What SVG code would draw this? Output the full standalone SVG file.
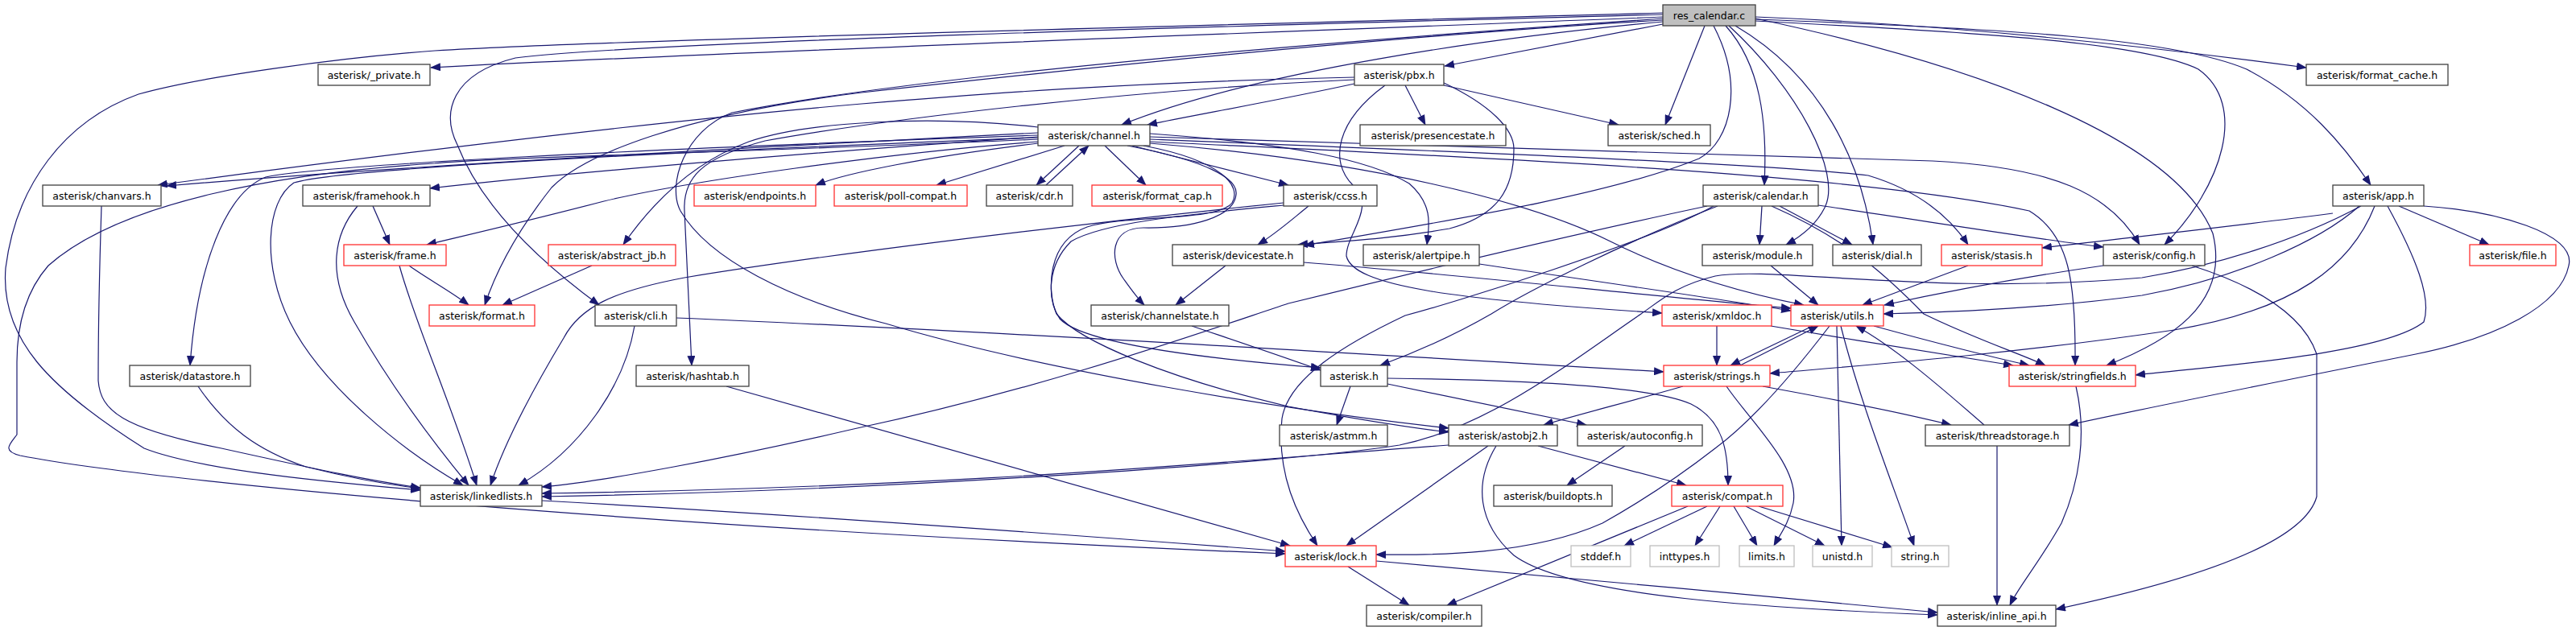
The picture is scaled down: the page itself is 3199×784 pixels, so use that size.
<svg xmlns="http://www.w3.org/2000/svg" width="3199" height="784" viewBox="0 0 3199 784">
<style>
.e{fill:none;stroke:#191970;stroke-width:1.2}
.n rect{fill:#fff;stroke:#404040;stroke-width:1.3}
.r rect{fill:#fff;stroke:#ff3030;stroke-width:1.3}
.g rect{fill:#fff;stroke:#bfbfbf;stroke-width:1.3}
.root rect{fill:#bfbfbf;stroke:#404040;stroke-width:1.3}
text{font-family:"DejaVu Sans",sans-serif;font-size:12.5px;fill:#000;text-anchor:middle}
</style>
<defs>
<marker id="a" markerWidth="13" markerHeight="10" refX="12" refY="5" orient="auto" markerUnits="userSpaceOnUse"><path d="M0,0 L13,5 L0,10 z" fill="#191970"/></marker>
</defs>
<rect width="3199" height="784" fill="#fff"/>
<g id="connectors">
<path class="e" marker-end="url(#a)" d="M2065,21 C1700,36 900,64 535,84"/>
<path class="e" marker-end="url(#a)" d="M2065,30 C1960,50 1870,68 1794,82"/>
<path class="e" marker-end="url(#a)" d="M2180,21 C2480,33 2760,70 2864,84"/>
<path class="e" marker-end="url(#a)" d="M2065,27 C1850,47 1560,88 1393,155"/>
<path class="e" marker-end="url(#a)" d="M2117,32 L2068,155"/>
<path class="e" marker-end="url(#a)" d="M2143,32 C2186,80 2195,150 2191,230"/>
<path class="e" marker-end="url(#a)" d="M2147,32 C2232,110 2288,215 2266,258 C2256,278 2240,292 2218,304"/>
<path class="e" marker-end="url(#a)" d="M2155,32 C2262,95 2312,200 2326,304"/>
<path class="e" marker-end="url(#a)" d="M2128,32 C2166,105 2150,175 2110,197 C2000,242 1800,274 1620,305"/>
<path class="e" marker-end="url(#a)" d="M2180,24 C2500,36 2700,48 2790,86 C2866,126 2910,180 2944,230"/>
<path class="e" marker-end="url(#a)" d="M2180,26 C2450,40 2660,52 2730,86 C2792,130 2760,232 2688,304"/>
<path class="e" marker-end="url(#a)" d="M2180,23 C2450,80 2700,170 2748,290 C2770,380 2690,425 2616,454"/>
<path class="e" marker-end="url(#a)" d="M2065,16 C1500,32 800,48 540,63 C420,72 250,95 172,117 C80,150 20,230 7,333 C0,420 60,482 179,557 C250,585 420,600 522,609"/>
<path class="e" marker-end="url(#a)" d="M2065,18 C1500,33 800,52 640,72 C560,92 548,140 568,180 C600,262 680,332 744,379"/>
<path class="e" marker-end="url(#a)" d="M2065,25 C1700,46 1250,95 1070,115 C850,142 725,192 685,233 C640,290 615,340 602,379"/>
<path class="e" marker-end="url(#a)" d="M2065,23 C1500,62 1100,102 909,140 C850,162 828,230 845,262 C880,322 980,372 1100,402 C1300,462 1600,510 1799,532"/>
<path class="e" marker-end="url(#a)" d="M1682,104 C1600,122 1500,140 1425,155"/>
<path class="e" marker-end="url(#a)" d="M1745,106 L1770,155"/>
<path class="e" marker-end="url(#a)" d="M1793,106 L2010,155"/>
<path class="e" marker-end="url(#a)" d="M1682,96 C1400,102 1200,118 1070,129 C800,152 450,196 196,230"/>
<path class="e" marker-end="url(#a)" d="M1682,99 C1400,112 1100,148 950,175 C870,196 848,222 850,262 L859,454"/>
<path class="e" marker-end="url(#a)" d="M1793,103 C1850,130 1880,160 1880,185 C1880,235 1860,268 1800,284 C1720,298 1660,300 1612,304"/>
<path class="e" marker-end="url(#a)" d="M1720,106 C1660,150 1650,200 1680,230 C1710,258 1672,290 1672,318 C1680,355 1800,372 2064,389"/>
<path class="e" marker-end="url(#a)" d="M1289,165 C900,185 500,206 207,231"/>
<path class="e" marker-end="url(#a)" d="M1289,170 C1000,190 700,215 534,234"/>
<path class="e" marker-end="url(#a)" d="M1289,178 C1150,195 1050,215 1013,230"/>
<path class="e" marker-end="url(#a)" d="M1322,181 L1163,230"/>
<path class="e" marker-end="url(#a)" d="M1340,181 L1287,230"/>
<path class="e" marker-end="url(#a)" d="M1299,230 L1352,181"/>
<path class="e" marker-end="url(#a)" d="M1372,181 L1423,230"/>
<path class="e" marker-end="url(#a)" d="M1406,181 L1600,230"/>
<path class="e" marker-end="url(#a)" d="M1289,176 C1100,190 850,226 750,250 C650,276 580,292 530,304"/>
<path class="e" marker-end="url(#a)" d="M1289,158 C1150,142 1000,152 930,176 C860,202 810,252 774,304"/>
<path class="e" marker-end="url(#a)" d="M1289,168 C800,185 400,205 330,220 C280,240 245,330 236,454"/>
<path class="e" marker-end="url(#a)" d="M1289,171 C800,190 420,210 365,227 C330,250 325,330 360,400 C400,480 500,560 575,603"/>
<path class="e" marker-end="url(#a)" d="M1289,173 C900,190 600,196 540,203 C350,215 150,250 60,330 C25,370 21,420 21,450 L21,540 C12,552 2,560 25,566 C200,600 800,655 1596,688"/>
<path class="e" marker-end="url(#a)" d="M1428,166 C1600,178 1700,198 1750,228 C1780,254 1775,280 1772,304"/>
<path class="e" marker-end="url(#a)" d="M1400,181 C1500,200 1538,222 1535,242 C1532,270 1480,284 1420,283 C1378,283 1378,322 1395,346 C1405,360 1412,370 1421,379"/>
<path class="e" marker-end="url(#a)" d="M1428,170 C1800,182 2200,195 2400,200 C2550,208 2620,240 2657,304"/>
<path class="e" marker-end="url(#a)" d="M1428,173 C1800,188 2200,204 2320,218 C2380,236 2420,268 2444,304"/>
<path class="e" marker-end="url(#a)" d="M1428,176 C1800,194 2300,214 2520,262 C2570,292 2578,350 2577,454"/>
<path class="e" marker-end="url(#a)" d="M1428,178 C1700,200 1900,250 2000,300 C2080,340 2170,365 2240,379"/>
<path class="e" marker-end="url(#a)" d="M1420,181 C1520,200 1542,232 1530,252 C1512,276 1400,266 1350,282 C1300,300 1300,362 1312,390 C1340,424 1450,470 1600,505 C1680,520 1740,530 1799,537"/>
<path class="e" marker-end="url(#a)" d="M1625,256 C1605,272 1585,290 1562,304"/>
<path class="e" marker-end="url(#a)" d="M1594,252 C1300,282 1000,320 850,345 C760,362 720,382 700,420 C670,470 630,540 609,603"/>
<path class="e" marker-end="url(#a)" d="M1594,255 C1480,266 1370,276 1330,300 C1300,330 1300,372 1316,396 C1340,422 1450,442 1640,457"/>
<path class="e" marker-end="url(#a)" d="M1522,330 L1460,379"/>
<path class="e" marker-end="url(#a)" d="M1619,326 C1800,340 2050,368 2224,383"/>
<path class="e" marker-end="url(#a)" d="M1837,328 C1950,345 2100,366 2224,386"/>
<path class="e" marker-end="url(#a)" d="M1480,405 C1530,422 1590,442 1640,460"/>
<path class="e" marker-end="url(#a)" d="M463,256 L484,304"/>
<path class="e" marker-end="url(#a)" d="M444,256 C415,290 405,340 440,400 C480,470 530,540 582,603"/>
<path class="e" marker-end="url(#a)" d="M496,330 C515,400 560,500 592,603"/>
<path class="e" marker-end="url(#a)" d="M508,330 C530,346 560,362 582,379"/>
<path class="e" marker-end="url(#a)" d="M735,330 L624,379"/>
<path class="e" marker-end="url(#a)" d="M126,256 C123,350 122,420 122,473 C125,510 150,532 275,557 C380,580 450,596 522,606"/>
<path class="e" marker-end="url(#a)" d="M246,480 C280,530 320,560 380,580 C440,595 480,602 522,607"/>
<path class="e" marker-end="url(#a)" d="M788,405 C775,480 720,560 644,603"/>
<path class="e" marker-end="url(#a)" d="M840,395 C1200,410 1700,440 2066,462"/>
<path class="e" marker-end="url(#a)" d="M902,480 L1602,678"/>
<path class="e" marker-end="url(#a)" d="M673,622 C1000,640 1400,670 1596,685"/>
<path class="e" marker-end="url(#a)" d="M1677,480 L1660,528"/>
<path class="e" marker-end="url(#a)" d="M1723,477 L1970,528"/>
<path class="e" marker-end="url(#a)" d="M1723,470 C1900,472 2050,480 2100,502 C2140,522 2146,560 2146,603"/>
<path class="e" marker-end="url(#a)" d="M2018,554 L1946,603"/>
<path class="e" marker-end="url(#a)" d="M1799,553 C1500,575 1200,605 673,613"/>
<path class="e" marker-end="url(#a)" d="M1848,554 L1672,678"/>
<path class="e" marker-end="url(#a)" d="M1910,554 L2094,603"/>
<path class="e" marker-end="url(#a)" d="M1858,554 C1830,600 1835,650 1880,690 C1950,742 2200,756 2406,764"/>
<path class="e" marker-end="url(#a)" d="M2120,629 L2017,678"/>
<path class="e" marker-end="url(#a)" d="M2136,629 L2105,678"/>
<path class="e" marker-end="url(#a)" d="M2153,629 L2182,678"/>
<path class="e" marker-end="url(#a)" d="M2168,629 L2266,678"/>
<path class="e" marker-end="url(#a)" d="M2184,629 L2350,680"/>
<path class="e" marker-end="url(#a)" d="M2096,629 L1797,752"/>
<path class="e" marker-end="url(#a)" d="M1674,704 L1750,752"/>
<path class="e" marker-end="url(#a)" d="M1709,697 C1900,715 2200,740 2406,761"/>
<path class="e" marker-end="url(#a)" d="M2090,480 C2020,500 1960,515 1917,528"/>
<path class="e" marker-end="url(#a)" d="M2189,480 C2300,500 2390,520 2423,528"/>
<path class="e" marker-end="url(#a)" d="M2144,480 C2175,525 2235,580 2227,625 C2222,650 2210,665 2203,678"/>
<path class="e" marker-end="url(#a)" d="M2161,454 L2258,405"/>
<path class="e" marker-end="url(#a)" d="M2251,405 L2149,454"/>
<path class="e" marker-end="url(#a)" d="M2132,405 L2132,454"/>
<path class="e" marker-end="url(#a)" d="M2199,405 C2300,422 2440,445 2500,454"/>
<path class="e" marker-end="url(#a)" d="M2327,405 C2400,425 2480,445 2520,454"/>
<path class="e" marker-end="url(#a)" d="M2281,405 L2287,678"/>
<path class="e" marker-end="url(#a)" d="M2286,405 C2310,500 2350,600 2377,678"/>
<path class="e" marker-end="url(#a)" d="M2272,405 C2230,460 2180,520 2130,557 C2080,596 2031,627 1990,650 C1900,690 1780,690 1709,689"/>
<path class="e" marker-end="url(#a)" d="M2464,528 C2400,472 2350,430 2305,405"/>
<path class="e" marker-end="url(#a)" d="M2480,554 L2480,752"/>
<path class="e" marker-end="url(#a)" d="M2578,480 C2592,540 2582,600 2560,650 C2532,700 2506,730 2496,752"/>
<path class="e" marker-end="url(#a)" d="M2199,330 L2258,379"/>
<path class="e" marker-end="url(#a)" d="M2444,330 L2313,379"/>
<path class="e" marker-end="url(#a)" d="M2612,330 C2500,346 2400,366 2340,379"/>
<path class="e" marker-end="url(#a)" d="M2722,330 C2800,355 2860,390 2877,440 L2877,617 C2860,680 2700,726 2553,757"/>
<path class="e" marker-end="url(#a)" d="M2188,256 L2185,304"/>
<path class="e" marker-end="url(#a)" d="M2210,256 L2300,304"/>
<path class="e" marker-end="url(#a)" d="M2258,255 C2400,276 2550,300 2612,307"/>
<path class="e" marker-end="url(#a)" d="M2133,256 C2020,300 1900,360 1852,390 C1800,420 1752,440 1714,454"/>
<path class="e" marker-end="url(#a)" d="M2128,256 C2050,300 1800,378 1745,392 C1669,428 1600,470 1592,520 C1585,590 1612,642 1636,678"/>
<path class="e" marker-end="url(#a)" d="M2120,256 C1950,292 1750,340 1600,377 C1500,410 1300,482 1060,533 C900,570 750,598 673,605"/>
<path class="e" marker-end="url(#a)" d="M2200,256 C2300,300 2350,350 2389,390 C2450,420 2510,440 2540,454"/>
<path class="e" marker-end="url(#a)" d="M2979,256 L3091,304"/>
<path class="e" marker-end="url(#a)" d="M2897,265 C2750,284 2600,300 2536,308"/>
<path class="e" marker-end="url(#a)" d="M2930,256 C2880,300 2780,345 2660,367 C2550,382 2420,388 2339,390"/>
<path class="e" marker-end="url(#a)" d="M2949,256 C2920,330 2850,385 2700,410 C2500,440 2300,455 2198,464"/>
<path class="e" marker-end="url(#a)" d="M2965,256 C3000,320 3020,370 3010,400 C2960,440 2750,455 2652,466"/>
<path class="e" marker-end="url(#a)" d="M3010,256 C3100,262 3200,290 3190,330 C3180,380 3100,420 3000,440 C2800,480 2650,510 2569,528"/>
<path class="e" marker-end="url(#a)" d="M2932,256 C2850,300 2750,330 2660,345 C2400,368 2200,330 2130,343 C2080,355 2060,375 2038,390 C1950,450 1850,530 1738,553 C1600,575 1100,610 673,617"/>
</g>
<g id="res_calendar" class="root"><rect x="2065" y="6" width="115" height="26"/><text x="2122.5" y="23.5">res_calendar.c</text></g>
<g id="private" class="n"><rect x="395" y="80" width="139" height="26"/><text x="464.5" y="97.5">asterisk/_private.h</text></g>
<g id="pbx" class="n"><rect x="1682" y="80" width="111" height="26"/><text x="1737.5" y="97.5">asterisk/pbx.h</text></g>
<g id="format_cache" class="n"><rect x="2864" y="80" width="176" height="26"/><text x="2952" y="97.5">asterisk/format_cache.h</text></g>
<g id="channel" class="n"><rect x="1289" y="155" width="139" height="26"/><text x="1358.5" y="172.5">asterisk/channel.h</text></g>
<g id="presencestate" class="n"><rect x="1689" y="155" width="181" height="26"/><text x="1779.5" y="172.5">asterisk/presencestate.h</text></g>
<g id="sched" class="n"><rect x="1997" y="155" width="127" height="26"/><text x="2060.5" y="172.5">asterisk/sched.h</text></g>
<g id="chanvars" class="n"><rect x="53" y="230" width="147" height="26"/><text x="126.5" y="247.5">asterisk/chanvars.h</text></g>
<g id="framehook" class="n"><rect x="376" y="230" width="158" height="26"/><text x="455" y="247.5">asterisk/framehook.h</text></g>
<g id="endpoints" class="r"><rect x="862" y="230" width="151" height="26"/><text x="937.5" y="247.5">asterisk/endpoints.h</text></g>
<g id="poll_compat" class="r"><rect x="1036" y="230" width="165" height="26"/><text x="1118.5" y="247.5">asterisk/poll-compat.h</text></g>
<g id="cdr" class="n"><rect x="1225" y="230" width="107" height="26"/><text x="1278.5" y="247.5">asterisk/cdr.h</text></g>
<g id="format_cap" class="r"><rect x="1356" y="230" width="162" height="26"/><text x="1437" y="247.5">asterisk/format_cap.h</text></g>
<g id="ccss" class="n"><rect x="1594" y="230" width="116" height="26"/><text x="1652" y="247.5">asterisk/ccss.h</text></g>
<g id="calendar" class="n"><rect x="2115" y="230" width="143" height="26"/><text x="2186.5" y="247.5">asterisk/calendar.h</text></g>
<g id="app" class="n"><rect x="2897" y="230" width="113" height="26"/><text x="2953.5" y="247.5">asterisk/app.h</text></g>
<g id="frame" class="r"><rect x="427" y="304" width="127" height="26"/><text x="490.5" y="321.5">asterisk/frame.h</text></g>
<g id="abstract_jb" class="r"><rect x="681" y="304" width="158" height="26"/><text x="760" y="321.5">asterisk/abstract_jb.h</text></g>
<g id="devicestate" class="n"><rect x="1456" y="304" width="163" height="26"/><text x="1537.5" y="321.5">asterisk/devicestate.h</text></g>
<g id="alertpipe" class="n"><rect x="1693" y="304" width="144" height="26"/><text x="1765" y="321.5">asterisk/alertpipe.h</text></g>
<g id="module" class="n"><rect x="2114" y="304" width="137" height="26"/><text x="2182.5" y="321.5">asterisk/module.h</text></g>
<g id="dial" class="n"><rect x="2276" y="304" width="110" height="26"/><text x="2331" y="321.5">asterisk/dial.h</text></g>
<g id="stasis" class="r"><rect x="2411" y="304" width="125" height="26"/><text x="2473.5" y="321.5">asterisk/stasis.h</text></g>
<g id="config" class="n"><rect x="2612" y="304" width="126" height="26"/><text x="2675" y="321.5">asterisk/config.h</text></g>
<g id="file" class="r"><rect x="3067" y="304" width="107" height="26"/><text x="3120.5" y="321.5">asterisk/file.h</text></g>
<g id="format" class="r"><rect x="533" y="379" width="131" height="26"/><text x="598.5" y="396.5">asterisk/format.h</text></g>
<g id="cli" class="n"><rect x="739" y="379" width="101" height="26"/><text x="789.5" y="396.5">asterisk/cli.h</text></g>
<g id="channelstate" class="n"><rect x="1355" y="379" width="171" height="26"/><text x="1440.5" y="396.5">asterisk/channelstate.h</text></g>
<g id="xmldoc" class="r"><rect x="2064" y="379" width="136" height="26"/><text x="2132" y="396.5">asterisk/xmldoc.h</text></g>
<g id="utils" class="r"><rect x="2224" y="379" width="115" height="26"/><text x="2281.5" y="396.5">asterisk/utils.h</text></g>
<g id="datastore" class="n"><rect x="161" y="454" width="150" height="26"/><text x="236" y="471.5">asterisk/datastore.h</text></g>
<g id="hashtab" class="n"><rect x="790" y="454" width="140" height="26"/><text x="860" y="471.5">asterisk/hashtab.h</text></g>
<g id="asterisk" class="n"><rect x="1640" y="454" width="83" height="26"/><text x="1681.5" y="471.5">asterisk.h</text></g>
<g id="strings" class="r"><rect x="2066" y="454" width="132" height="26"/><text x="2132" y="471.5">asterisk/strings.h</text></g>
<g id="stringfields" class="r"><rect x="2495" y="454" width="157" height="26"/><text x="2573.5" y="471.5">asterisk/stringfields.h</text></g>
<g id="astmm" class="n"><rect x="1589" y="528" width="134" height="26"/><text x="1656" y="545.5">asterisk/astmm.h</text></g>
<g id="astobj2" class="n"><rect x="1799" y="528" width="135" height="26"/><text x="1866.5" y="545.5">asterisk/astobj2.h</text></g>
<g id="autoconfig" class="n"><rect x="1959" y="528" width="155" height="26"/><text x="2036.5" y="545.5">asterisk/autoconfig.h</text></g>
<g id="threadstorage" class="n"><rect x="2391" y="528" width="179" height="26"/><text x="2480.5" y="545.5">asterisk/threadstorage.h</text></g>
<g id="linkedlists" class="n"><rect x="522" y="603" width="151" height="26"/><text x="597.5" y="620.5">asterisk/linkedlists.h</text></g>
<g id="buildopts" class="n"><rect x="1855" y="603" width="147" height="26"/><text x="1928.5" y="620.5">asterisk/buildopts.h</text></g>
<g id="compat" class="r"><rect x="2076" y="603" width="138" height="26"/><text x="2145" y="620.5">asterisk/compat.h</text></g>
<g id="lock" class="r"><rect x="1596" y="678" width="113" height="26"/><text x="1652.5" y="695.5">asterisk/lock.h</text></g>
<g id="stddef" class="g"><rect x="1951" y="678" width="74" height="26"/><text x="1988" y="695.5">stddef.h</text></g>
<g id="inttypes" class="g"><rect x="2049" y="678" width="86" height="26"/><text x="2092" y="695.5">inttypes.h</text></g>
<g id="limits" class="g"><rect x="2160" y="678" width="68" height="26"/><text x="2194" y="695.5">limits.h</text></g>
<g id="unistd" class="g"><rect x="2251" y="678" width="74" height="26"/><text x="2288" y="695.5">unistd.h</text></g>
<g id="string" class="g"><rect x="2349" y="678" width="71" height="26"/><text x="2384.5" y="695.5">string.h</text></g>
<g id="compiler" class="n"><rect x="1697" y="752" width="143" height="26"/><text x="1768.5" y="769.5">asterisk/compiler.h</text></g>
<g id="inline_api" class="n"><rect x="2406" y="752" width="147" height="26"/><text x="2479.5" y="769.5">asterisk/inline_api.h</text></g>
</svg>
